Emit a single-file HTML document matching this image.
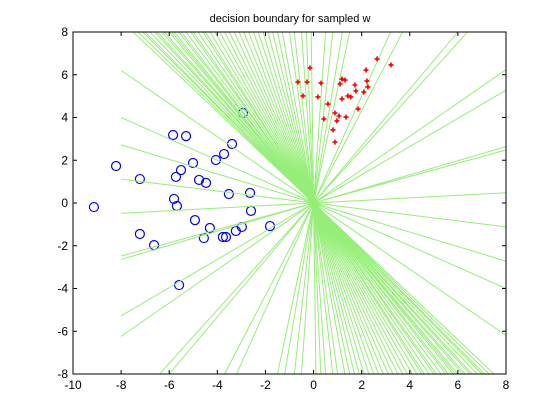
<!DOCTYPE html>
<html><head><meta charset="utf-8"><style>
html,body{margin:0;padding:0;background:#fff;width:560px;height:420px;overflow:hidden;}
svg{display:block;font-family:"Liberation Sans",sans-serif;}
</style></head><body>
<svg id="chart" width="560" height="420" viewBox="0 0 560 420">
<rect x="0" y="0" width="560" height="420" fill="#fff"/>
<text x="290" y="22" font-size="11" text-anchor="middle">decision boundary for sampled w</text>
<defs><clipPath id="clip"><rect x="73" y="32" width="433" height="342"/></clipPath></defs>
<g id="pts"></g>
<g id="lines" clip-path="url(#clip)"></g>
<g id="pts2"></g>
<rect x="73" y="32" width="433" height="342" fill="none" stroke="#000" stroke-width="1"/>
<g id="axes" font-size="12"></g>
</svg>
<script>
const xTicks=[-10,-8,-6,-4,-2,0,2,4,6,8];
const yTicks=[-8,-6,-4,-2,0,2,4,6,8];
const steepTopIntercepts=[-7.5,-7.3,-7.1,-7.0,-6.8,-6.6,-6.5,-6.3,-6.2,-6.0,-5.9,-5.8,-5.6,-5.5,-5.3,-5.1,-5.0,-4.8,-4.6,-4.5,-4.3,-4.1,-3.9,-3.7,-3.5,-3.3,-3.1,-2.9,-2.7,-2.5,-2.3,-2.1,-1.9,-1.7,-1.5,-1.3,-1.0,-0.8,-0.5,-0.3,-0.1,0.5,0.8,1.2,1.5,3.2,3.7,6.0,6.4];
const shallowSlopes=[-0.775,-0.5,-0.34,-0.14,0.06,0.31,0.33,0.66,0.78];
const blueX=[-9.13,-8.21,-7.22,-7.22,-6.63,-5.84,-5.30,-5.72,-5.51,-5.80,-5.68,-5.01,-4.76,-4.47,-4.93,-4.06,-3.72,-3.39,-3.52,-2.64,-2.60,-4.31,-4.56,-3.77,-3.64,-3.23,-2.98,-1.81,-5.59,-2.93];
const blueY=[-0.19,1.73,1.12,-1.45,-1.97,3.18,3.13,1.22,1.54,0.19,-0.14,1.87,1.08,0.94,-0.80,2.01,2.29,2.76,0.42,0.47,-0.37,-1.17,-1.64,-1.59,-1.59,-1.31,-1.12,-1.08,-3.84,4.21];
const redX=[2.64,3.22,2.18,-0.15,-0.65,-0.27,0.31,1.18,1.31,1.10,1.72,2.22,2.26,2.09,1.76,-0.44,0.18,1.18,1.43,1.55,0.60,1.85,0.89,1.06,0.43,1.35,0.97,0.81,0.89];
const redY=[6.74,6.46,6.22,6.32,5.66,5.66,5.61,5.80,5.75,5.57,5.52,5.71,5.43,5.19,5.24,5.01,4.96,4.87,5.01,4.96,4.63,4.40,4.21,4.07,3.93,4.02,3.84,3.42,2.85];

const NS="http://www.w3.org/2000/svg";
const X0=73,X1=506,Y0=374,Y1=32;
function sx(v){return X0+(v+10)/18*(X1-X0);}
function sy(v){return Y0-(v+8)/16*(Y0-Y1);}
function mk(tag,attrs,parent){const e=document.createElementNS(NS,tag);for(const k in attrs)e.setAttribute(k,attrs[k]);parent.appendChild(e);return e;}

const lg=document.getElementById('lines');
const col='rgb(150,238,120)';
steepTopIntercepts.forEach(xt=>{
  const m=8/xt;
  const l=mk('line',{x1:sx(-8),y1:sy(-8*m),x2:sx(8),y2:sy(8*m),stroke:col,'stroke-width':1},lg);
  
  
});
shallowSlopes.forEach(m=>{
  const l=mk('line',{x1:sx(-8),y1:sy(-8*m),x2:sx(8),y2:sy(8*m),stroke:col,'stroke-width':1},lg);
  
  
});

const pg=document.getElementById('pts');
blueX.forEach((x,i)=>{
  const c=mk('circle',{cx:sx(x),cy:sy(blueY[i]),r:4.5,fill:'none',stroke:'#0000ff','stroke-width':1.2},pg);
  
  
});
const pg2=document.getElementById('pts2');
redX.forEach((x,i)=>{
  const px=sx(x),py=sy(redY[i]);
  const p=mk('path',{d:`M${px-2.5},${py}H${px+2.5}M${px},${py-2.5}V${py+2.5}`,stroke:'#ff0000','stroke-width':1.6,fill:'none'},pg2);
  
  
});

const ag=document.getElementById('axes');
xTicks.forEach(t=>{
  const x=sx(t);
  mk('line',{x1:x,y1:Y0,x2:x,y2:Y0-4,stroke:'#000'},ag);
  mk('line',{x1:x,y1:Y1,x2:x,y2:Y1+4,stroke:'#000'},ag);
  const tx=mk('text',{x:x,y:Y0+15,'text-anchor':'middle'},ag);
  tx.textContent=t;
  
  
});
yTicks.forEach(t=>{
  const y=sy(t);
  mk('line',{x1:X0,y1:y,x2:X0+4,y2:y,stroke:'#000'},ag);
  mk('line',{x1:X1,y1:y,x2:X1-4,y2:y,stroke:'#000'},ag);
  const tx=mk('text',{x:X0-5,y:y+4,'text-anchor':'end'},ag);
  tx.textContent=t;
  
  
});
</script>
</body></html>
